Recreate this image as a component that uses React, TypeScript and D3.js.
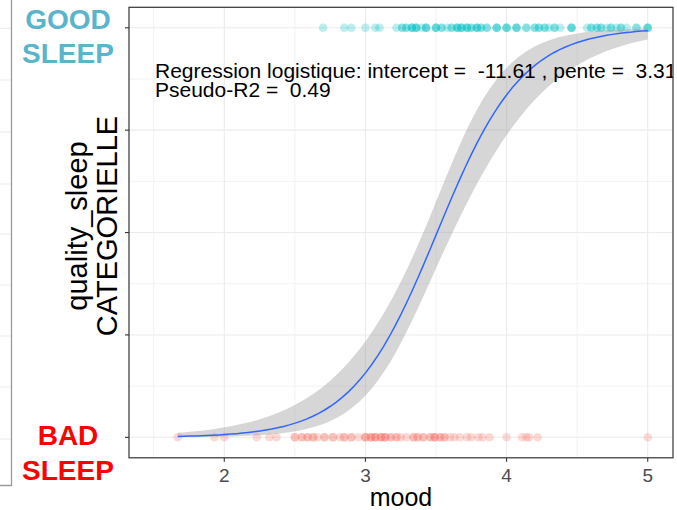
import React from "react";
import * as d3 from "d3";

// ---- data ----
const goodMood: number[] = [
  2.70, 2.85, 2.90, 3.00, 3.07, 3.10,
  3.22, 3.26, 3.26, 3.29, 3.29, 3.33, 3.33, 3.33, 3.36, 3.36, 3.36, 3.40,
  3.43, 3.43, 3.43, 3.50, 3.50, 3.50, 3.54, 3.54, 3.58, 3.61, 3.61,
  3.65, 3.65, 3.65, 3.68, 3.68, 3.68, 3.72, 3.72, 3.72, 3.75, 3.75,
  3.79, 3.79, 3.79, 3.82, 3.82, 3.86, 3.86, 3.93, 3.93, 3.93,
  4.00, 4.00, 4.00, 4.07, 4.07, 4.07, 4.14, 4.14, 4.20, 4.20, 4.23, 4.23,
  4.27, 4.27, 4.30, 4.34, 4.34, 4.38, 4.46, 4.46, 4.46, 4.57, 4.60, 4.60,
  4.64, 4.64, 4.67, 4.67, 4.71, 4.74, 4.74, 4.78, 4.81, 4.81, 4.85,
  4.92, 4.92, 5.00, 5.00, 5.00,
];
const badMood: number[] = [
  1.67, 1.93, 2.00, 2.23, 2.32, 2.37, 2.50, 2.50, 2.55, 2.55, 2.59, 2.59,
  2.63, 2.63, 2.66, 2.71, 2.71, 2.77, 2.77, 2.82, 2.85, 2.85, 2.90, 2.90,
  2.95, 3.00, 3.00, 3.00, 3.04, 3.04, 3.04, 3.07, 3.07, 3.07, 3.11, 3.11, 3.11,
  3.14, 3.14, 3.14, 3.18, 3.18, 3.22, 3.22, 3.25, 3.29, 3.34, 3.34, 3.37, 3.37,
  3.41, 3.41, 3.46, 3.46, 3.49, 3.49, 3.49, 3.53, 3.53, 3.56, 3.56, 3.60,
  3.63, 3.67, 3.72, 3.75, 3.80, 3.83, 3.88, 4.00, 4.11, 4.14, 4.16, 4.22, 5.00,
];
const intercept = -11.61;
const slope = 3.31;
const pseudoR2 = 0.49;
// approximate covariance of the coefficients (read from band width)
const varIntercept = 2.38;
const covIntSlope = -0.686;
const varSlope = 0.2;

const xTicks = [2, 3, 4, 5];
const xMinorTicks = [1.5, 2.5, 3.5, 4.5];
const yTicks = [0, 0.25, 0.5, 0.75, 1];
const yMinorTicks = [0.125, 0.375, 0.625, 0.875];

const W = 677;
const H = 510;
const panel = { left: 129, right: 673, top: 7.3, bottom: 457.8 };
const FONT = "'Liberation Sans', Arial, Helvetica, sans-serif";

export default function App() {
  const x = d3.scaleLinear().domain([1.325, 5.179]).range([panel.left, panel.right]);
  const y = d3.scaleLinear().domain([-0.05, 1.05]).range([panel.bottom, panel.top]);

  const lo = d3.min(badMood.concat(goodMood)) as number;
  const hi = d3.max(badMood.concat(goodMood)) as number;
  const grid = d3.range(0, 81).map((i) => lo + ((hi - lo) * i) / 80);
  const plogis = (e: number) => 1 / (1 + Math.exp(-e));
  const fit = grid.map((v) => {
    const eta = intercept + slope * v;
    const se = Math.sqrt(varIntercept + 2 * covIntSlope * v + varSlope * v * v);
    return { v, p: plogis(eta), lo: plogis(eta - 1.96 * se), hi: plogis(eta + 1.96 * se) };
  });
  const line = d3.line<any>().x((d) => x(d.v)).y((d) => y(d.p))(fit) as string;
  const area = d3
    .area<any>()
    .x((d) => x(d.v))
    .y0((d) => y(d.lo))
    .y1((d) => y(d.hi))(fit) as string;

  const pw = panel.right - panel.left;
  const ph = panel.bottom - panel.top;
  const leftGridY = [28.3, 80, 132, 184, 234, 285, 336, 387, 439];

  return (
    <div style={{ position: "absolute", left: 0, top: 0 }}>
      <svg width={W} height={H} style={{ display: "block", fontFamily: FONT }}>
        <rect x={0} y={0} width={W} height={H} fill="#fff" />
        {/* cut-off neighbouring panel on the left */}
        {leftGridY.map((g, i) => (
          <line key={i} x1={0} x2={11.5} y1={g} y2={g} stroke="#EBEBEB" strokeWidth={1} />
        ))}
        <path d="M11.5,0 V485.5 H0" fill="none" stroke="#9A9A9A" strokeWidth={1.3} />

        <defs>
          <clipPath id="pclip">
            <rect x={panel.left} y={panel.top} width={pw} height={ph} />
          </clipPath>
        </defs>

        {/* grid */}
        {xMinorTicks.map((t) => (
          <line key={"xm" + t} x1={x(t)} x2={x(t)} y1={panel.top} y2={panel.bottom} stroke="#F2F2F2" strokeWidth={1} />
        ))}
        {yMinorTicks.map((t) => (
          <line key={"ym" + t} y1={y(t)} y2={y(t)} x1={panel.left} x2={panel.right} stroke="#F2F2F2" strokeWidth={1} />
        ))}
        {xTicks.map((t) => (
          <line key={"xg" + t} x1={x(t)} x2={x(t)} y1={panel.top} y2={panel.bottom} stroke="#EBEBEB" strokeWidth={1.1} />
        ))}
        {yTicks.map((t) => (
          <line key={"yg" + t} y1={y(t)} y2={y(t)} x1={panel.left} x2={panel.right} stroke="#EBEBEB" strokeWidth={1.1} />
        ))}

        <g clipPath="url(#pclip)">
          {badMood.map((m, i) => (
            <circle key={"b" + i} cx={x(m)} cy={y(0)} r={4.3} fill="#F8766D" fillOpacity={0.27} />
          ))}
          {goodMood.map((m, i) => (
            <circle key={"g" + i} cx={x(m)} cy={y(1)} r={4.3} fill="#00BFC4" fillOpacity={0.27} />
          ))}
          <path d={area} fill="#999999" fillOpacity={0.4} />
          <path d={line} fill="none" stroke="#3366FF" strokeWidth={1.5} />
          <text x={155} y={78} fontSize={21} fill="#000" style={{ whiteSpace: "pre" }}>
            {`Regression logistique: intercept =  ${intercept.toFixed(2)} , pente =  ${slope.toFixed(2)}`}
          </text>
          <text x={155} y={97} fontSize={21} fill="#000" style={{ whiteSpace: "pre" }}>
            {`Pseudo-R2 =  ${pseudoR2.toFixed(2)}`}
          </text>
        </g>

        <rect x={panel.left} y={panel.top} width={pw} height={ph} fill="none" stroke="#333333" strokeWidth={1.2} />

        {/* ticks */}
        {xTicks.map((t) => (
          <g key={"xt" + t}>
            <line x1={x(t)} x2={x(t)} y1={panel.bottom} y2={panel.bottom + 4} stroke="#333333" strokeWidth={1.1} />
            <text x={x(t)} y={482} fontSize={19} fill="#4D4D4D" textAnchor="middle">
              {t}
            </text>
          </g>
        ))}
        {yTicks.map((t) => (
          <line key={"yt" + t} x1={panel.left - 4} x2={panel.left} y1={y(t)} y2={y(t)} stroke="#333333" strokeWidth={1.1} />
        ))}

        {/* axis titles */}
        <text x={(panel.left + panel.right) / 2} y={506} fontSize={25} fill="#000" textAnchor="middle">
          mood
        </text>
        <g transform="translate(87,226) rotate(-90)">
          <text x={0} y={0} fontSize={29} fill="#000" textAnchor="middle">
            quality_sleep
          </text>
        </g>
        <g transform="translate(117,226) rotate(-90)">
          <text x={0} y={0} fontSize={29} fill="#000" textAnchor="middle">
            CATEGORIELLE
          </text>
        </g>

        {/* category labels */}
        <text x={68} y={29} fontSize={28} fontWeight="bold" fill="#5AB4CC" textAnchor="middle">
          GOOD
        </text>
        <text x={68} y={63} fontSize={28} fontWeight="bold" fill="#5AB4CC" textAnchor="middle">
          SLEEP
        </text>
        <text x={68} y={445} fontSize={28} fontWeight="bold" fill="#FF0000" textAnchor="middle">
          BAD
        </text>
        <text x={68} y={480} fontSize={28} fontWeight="bold" fill="#FF0000" textAnchor="middle">
          SLEEP
        </text>
      </svg>
    </div>
  );
}
